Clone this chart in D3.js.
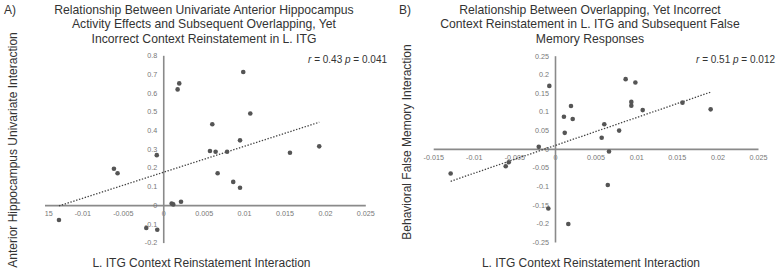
<!DOCTYPE html>
<html><head><meta charset="utf-8">
<script src="https://cdn.jsdelivr.net/npm/d3@7"></script>
<style>
body{margin:0;background:#fff;}
text{font-family:"Liberation Sans",Arial,sans-serif;}
</style></head>
<body><svg id="c" width="780" height="270"></svg>
<script>
// ---------- Data ----------
const xA = [-0.0129,-0.0061,-0.00565,-0.0008,-0.0021,-0.00074,0.00104,0.00124,0.0022,0.00178,0.00198,0.00607,0.00578,0.00648,0.0079,0.00673,0.00866,0.0095,0.0095,0.0099,0.01077,0.01568,0.0193];
const yA = [-0.079,0.194,0.170,0.267,-0.122,-0.131,0.009,0.004,0.018,0.618,0.650,0.432,0.289,0.285,0.285,0.170,0.124,0.093,0.346,0.711,0.489,0.280,0.314];
const xB = [-0.01285,-0.00607,-0.0057,-0.0020,-0.0007,-0.00082,0.0011,0.0012,0.00197,0.00218,0.00164,0.00575,0.00607,0.00665,0.0065,0.0079,0.0087,0.0099,0.0094,0.0094,0.0108,0.0157,0.01917];
const yB = [-0.066,-0.0465,-0.036,0.0054,0.169,-0.160,0.086,0.043,0.115,0.080,-0.2016,0.0296,0.066,-0.007,-0.097,0.049,0.187,0.178,0.126,0.116,0.104,0.124,0.106];
const trendA = [0.175, 13.87];   // intercept, slope
const trendB = [0.009, 7.47];
const xTickVals = [-0.015,-0.01,-0.005,0,0.005,0.01,0.015,0.02,0.025];
const xTickLabels = ["-0.015","-0.01","-0.005","0","0.005","0.01","0.015","0.02","0.025"];
const yTickValsA = [-0.2,-0.1,0,0.1,0.2,0.3,0.4,0.5,0.6,0.7,0.8];
const yTickLabelsA = ["-0.2","-0.1","0","0.1","0.2","0.3","0.4","0.5","0.6","0.7","0.8"];
const yTickValsB = [-0.25,-0.2,-0.15,-0.1,-0.05,0,0.05,0.1,0.15,0.2,0.25];
const yTickLabelsB = ["-0.25","-0.2","-0.15","-0.1","-0.05","0","0.05","0.1","0.15","0.2","0.25"];
const titleA = ["Relationship Between Univariate Anterior Hippocampus","Activity Effects and Subsequent Overlapping, Yet","Incorrect Context Reinstatement in L. ITG"];
const titleB = ["Relationship Between Overlapping, Yet Incorrect","Context Reinstatement in L. ITG and Subsequent False","Memory Responses"];
const statA = ["0.43","0.041"], statB = ["0.51","0.012"];
const xTitle = "L. ITG Context Reinstatement Interaction";
const yTitleA = "Anterior Hippocampus Univariate Interaction";
const yTitleB = "Behavioral False Memory Interaction";

const svg = d3.select("#c");
const axisCol = "#8a8a8a", dotCol = "#555", txtCol = "#333";

function panel(cfg){
  const g = svg.append("g");
  if(cfg.clipX!==undefined){
    svg.append("clipPath").attr("id","clip"+cfg.id).append("rect")
      .attr("x",cfg.clipX).attr("y",0).attr("width",400).attr("height",270);
    g.attr("clip-path","url(#clip"+cfg.id+")");
  }
  const x = d3.scaleLinear().domain([-0.015,0.025]).range(cfg.xr);
  const y = d3.scaleLinear().domain(cfg.yd).range(cfg.yr);
  // x axis
  const xa = g.append("g").attr("transform",`translate(0,${y(0)})`)
    .call(d3.axisBottom(x).tickValues(xTickVals).tickFormat((d,i)=>xTickLabels[i]).tickSize(0).tickSizeOuter(0).tickPadding(6));
  // y axis
  const ya = g.append("g").attr("transform",`translate(${x(0)},0)`)
    .call(d3.axisLeft(y).tickValues(cfg.yTicks).tickFormat((d,i)=>cfg.yLabels[i]).tickSize(0).tickSizeOuter(0).tickPadding(6));
  [xa,ya].forEach(a=>{
    a.select(".domain").attr("stroke",axisCol).attr("stroke-width",1.6);
    a.selectAll("text").attr("fill","#777").style("font-size","7.2px").style("font-family","'Liberation Sans',Arial,sans-serif");
  });
  // trendline
  const xs = cfg.xs, ys = cfg.ys;
  const x0 = d3.min(xs), x1 = d3.max(xs);
  g.append("line").attr("x1",x(x0)).attr("y1",y(cfg.trend[0]+cfg.trend[1]*x0))
    .attr("x2",x(x1)).attr("y2",y(cfg.trend[0]+cfg.trend[1]*x1))
    .attr("stroke","#444").attr("stroke-width",1.3).attr("stroke-dasharray","1.4,1.6");
  // points
  g.selectAll("circle.p").data(xs.map((v,i)=>[v,ys[i]])).enter().append("circle")
    .attr("cx",d=>x(d[0])).attr("cy",d=>y(d[1])).attr("r",2.3).attr("fill",dotCol);
  // stat
  const st = svg.append("text").attr("x",cfg.statX).attr("y",63).attr("text-anchor","end")
    .attr("fill",txtCol).style("font-size","10px");
  st.append("tspan").style("font-style","italic").text("r");
  st.append("tspan").text(" = "+cfg.stat[0]+" ");
  st.append("tspan").style("font-style","italic").text("p");
  st.append("tspan").text(" = "+cfg.stat[1]);
  // title
  svg.append("text").attr("text-anchor","middle").attr("fill",txtCol).style("font-size","12.2px")
    .selectAll("tspan").data(cfg.title).enter().append("tspan")
    .attr("x",cfg.titleX).attr("y",(d,i)=>14+i*14.3).text(d=>d);
  svg.append("text").attr("x",cfg.tagX).attr("y",14).attr("fill",txtCol).style("font-size","12px").text(cfg.tag);
  // axis titles
  svg.append("text").attr("x",cfg.xtX).attr("y",267).attr("text-anchor","middle").attr("fill",txtCol)
    .style("font-size","12px").text(xTitle);
  svg.append("text").attr("transform",`translate(${cfg.ytX},${cfg.ytY}) rotate(-90)`).attr("text-anchor","middle")
    .attr("fill",txtCol).style("font-size","12px").text(cfg.yTitle);
}

panel({id:"A",clipX:45,xr:[42,365.3],yd:[-0.2,0.8],yr:[242.6,55.3],yTicks:yTickValsA,yLabels:yTickLabelsA,
  xs:xA,ys:yA,trend:trendA,stat:statA,statX:387,title:titleA,titleX:204,tag:"A)",tagX:4,xtX:201.5,
  ytX:17,ytY:150,yTitle:yTitleA});
panel({id:"B",xr:[433.2,758],yd:[-0.25,0.25],yr:[242,55.7],yTicks:yTickValsB,yLabels:yTickLabelsB,
  xs:xB,ys:yB,trend:trendB,stat:statB,statX:775,title:titleB,titleX:590,tag:"B)",tagX:399,xtX:591,
  ytX:411,ytY:142,yTitle:yTitleB});
</script></body></html>
